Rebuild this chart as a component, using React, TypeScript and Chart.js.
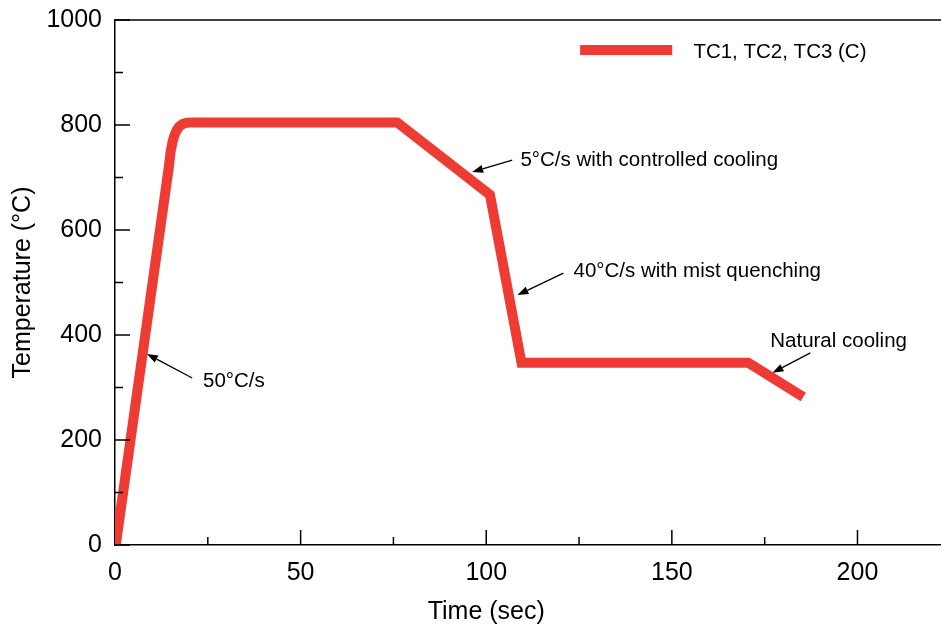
import React, { useEffect, useRef } from "react";
import { Chart, registerables } from "chart.js";

Chart.register(...registerables);

// Data (time in sec, temperature in °C)
const timeSec = [0.2, 14.5, 15, 15.5, 16, 16.6, 17.3, 18.2, 19.3, 21, 76, 101, 109.5, 170.6, 185.4];
const tempC = [0, 720, 750, 768, 780, 790, 797, 802, 804.5, 805, 805, 667, 347, 347, 282];
const seriesLabel = "TC1, TC2, TC3 (C)";

const xMajorTicks = [0, 50, 100, 150, 200];
const yMajorTicks = [0, 200, 400, 600, 800, 1000];

// Annotations: text anchor (data coords), arrow from -> to (data coords)
const annTexts = ["50°C/s", "5°C/s with controlled cooling", "40°C/s with mist quenching", "Natural cooling"];
const annTextX = [23.7, 109.2, 123.5, 176.5];
const annTextY = [312, 733, 522, 387];
const annFromX = [20.8, 107, 120.8, 187.3];
const annFromY = [318, 733, 518, 366];
const annToX = [8.6, 96.2, 108.4, 177.1];
const annToY = [364, 710.5, 476, 328];

const legendLineX = [125.3, 150.1];
const legendLineY = 943;
const legendTextX = 155.8;

const FONT = '"Liberation Sans", Arial, Helvetica, sans-serif';
const RED = "#EE3B33";

export default function App() {
  const ref = useRef<HTMLCanvasElement | null>(null);

  useEffect(() => {
    document.body.style.margin = "0";
    const canvas = ref.current;
    if (!canvas) return;

    const decor = {
      id: "decor",
      afterDraw(chart: any) {
        const ctx = chart.ctx;
        const xs = chart.scales.x;
        const ys = chart.scales.y;
        const ca = chart.chartArea;
        ctx.save();
        ctx.strokeStyle = "#000";
        ctx.lineWidth = 1.5;
        // top border
        ctx.beginPath();
        ctx.moveTo(ca.left, ca.top);
        ctx.lineTo(ca.right, ca.top);
        ctx.stroke();
        // inward y ticks
        for (let v = 0; v <= 1000; v += 100) {
          const py = ys.getPixelForValue(v);
          const len = v % 200 === 0 ? 15 : 8;
          ctx.beginPath();
          ctx.moveTo(ca.left, py);
          ctx.lineTo(ca.left + len, py);
          ctx.stroke();
        }
        // inward x ticks
        for (let v = 25; v <= 220; v += 25) {
          const px = xs.getPixelForValue(v);
          const len = v % 50 === 0 ? 15 : 8;
          ctx.beginPath();
          ctx.moveTo(px, ca.bottom);
          ctx.lineTo(px, ca.bottom - len);
          ctx.stroke();
        }
        // axis titles
        ctx.fillStyle = "#000";
        ctx.font = `25px ${FONT}`;
        ctx.textAlign = "center";
        ctx.textBaseline = "middle";
        ctx.fillText("Time (sec)", xs.getPixelForValue(100), 612);
        ctx.save();
        ctx.translate(23, ys.getPixelForValue(500));
        ctx.rotate(-Math.PI / 2);
        ctx.fillText("Temperature (°C)", 0, 0);
        ctx.restore();

        // annotations
        ctx.font = `20.5px ${FONT}`;
        ctx.textAlign = "left";
        ctx.textBaseline = "middle";
        ctx.lineWidth = 1.3;
        for (let i = 0; i < annTexts.length; i++) {
          ctx.fillText(annTexts[i], xs.getPixelForValue(annTextX[i]), ys.getPixelForValue(annTextY[i]));
          const x1 = xs.getPixelForValue(annFromX[i]);
          const y1 = ys.getPixelForValue(annFromY[i]);
          const x2 = xs.getPixelForValue(annToX[i]);
          const y2 = ys.getPixelForValue(annToY[i]);
          const ang = Math.atan2(y2 - y1, x2 - x1);
          const hl = 11;
          const hw = 4;
          const bx = x2 - hl * Math.cos(ang);
          const by = y2 - hl * Math.sin(ang);
          ctx.beginPath();
          ctx.moveTo(x1, y1);
          ctx.lineTo(bx, by);
          ctx.stroke();
          ctx.beginPath();
          ctx.moveTo(x2, y2);
          ctx.lineTo(bx + hw * Math.sin(ang), by - hw * Math.cos(ang));
          ctx.lineTo(bx - hw * Math.sin(ang), by + hw * Math.cos(ang));
          ctx.closePath();
          ctx.fill();
        }

        // legend
        const ds = chart.data.datasets[0];
        ctx.strokeStyle = ds.borderColor;
        ctx.lineWidth = 10;
        ctx.lineCap = "butt";
        ctx.beginPath();
        ctx.moveTo(xs.getPixelForValue(legendLineX[0]), ys.getPixelForValue(legendLineY));
        ctx.lineTo(xs.getPixelForValue(legendLineX[1]), ys.getPixelForValue(legendLineY));
        ctx.stroke();
        ctx.fillStyle = "#000";
        ctx.fillText(ds.label, xs.getPixelForValue(legendTextX), ys.getPixelForValue(legendLineY) + 2);
        ctx.restore();
      },
    };

    const chart = new Chart(canvas, {
      type: "line",
      data: {
        datasets: [
          {
            label: seriesLabel,
            data: timeSec.map((t, i) => ({ x: t, y: tempC[i] })),
            borderColor: RED,
            backgroundColor: RED,
            borderWidth: 10,
            pointRadius: 0,
            tension: 0,
            borderJoinStyle: "miter",
            borderCapStyle: "butt",
            fill: false,
          },
        ],
      },
      options: {
        animation: false,
        responsive: false,
        maintainAspectRatio: false,
        layout: { padding: { top: 20, right: 0, left: 0, bottom: 0 } },
        plugins: { legend: { display: false }, tooltip: { enabled: false }, title: { display: false } },
        scales: {
          x: {
            type: "linear",
            min: 0,
            max: 222.5,
            grid: { display: false, drawTicks: false },
            border: { display: true, color: "#000", width: 1.5 },
            ticks: {
              color: "#000",
              font: { family: FONT, size: 25 },
              padding: 13,
              maxRotation: 0,
              autoSkip: false,
              callback: (v: any) => String(v),
            },
            afterBuildTicks: (scale: any) => {
              scale.ticks = xMajorTicks.map((v) => ({ value: v }));
            },
            afterFit: (scale: any) => {
              scale.height = 83;
              scale.paddingLeft = 0;
              scale.paddingRight = 0;
            },
          },
          y: {
            type: "linear",
            min: 0,
            max: 1000,
            grid: { display: false, drawTicks: false },
            border: { display: true, color: "#000", width: 1.5 },
            ticks: {
              color: "#000",
              font: { family: FONT, size: 25 },
              padding: 13,
              callback: (v: any) => String(v),
            },
            afterBuildTicks: (scale: any) => {
              scale.ticks = yMajorTicks.map((v) => ({ value: v }));
            },
            afterFit: (scale: any) => {
              scale.width = 115;
              scale.paddingTop = 0;
              scale.paddingBottom = 0;
            },
          },
        },
      },
      plugins: [decor],
    });

    return () => chart.destroy();
  }, []);

  return (
    <div style={{ position: "fixed", left: 0, top: 0, width: 941, height: 628, background: "#fff" }}>
      <canvas ref={ref} width={941} height={628} style={{ width: 941, height: 628 }} />
    </div>
  );
}
